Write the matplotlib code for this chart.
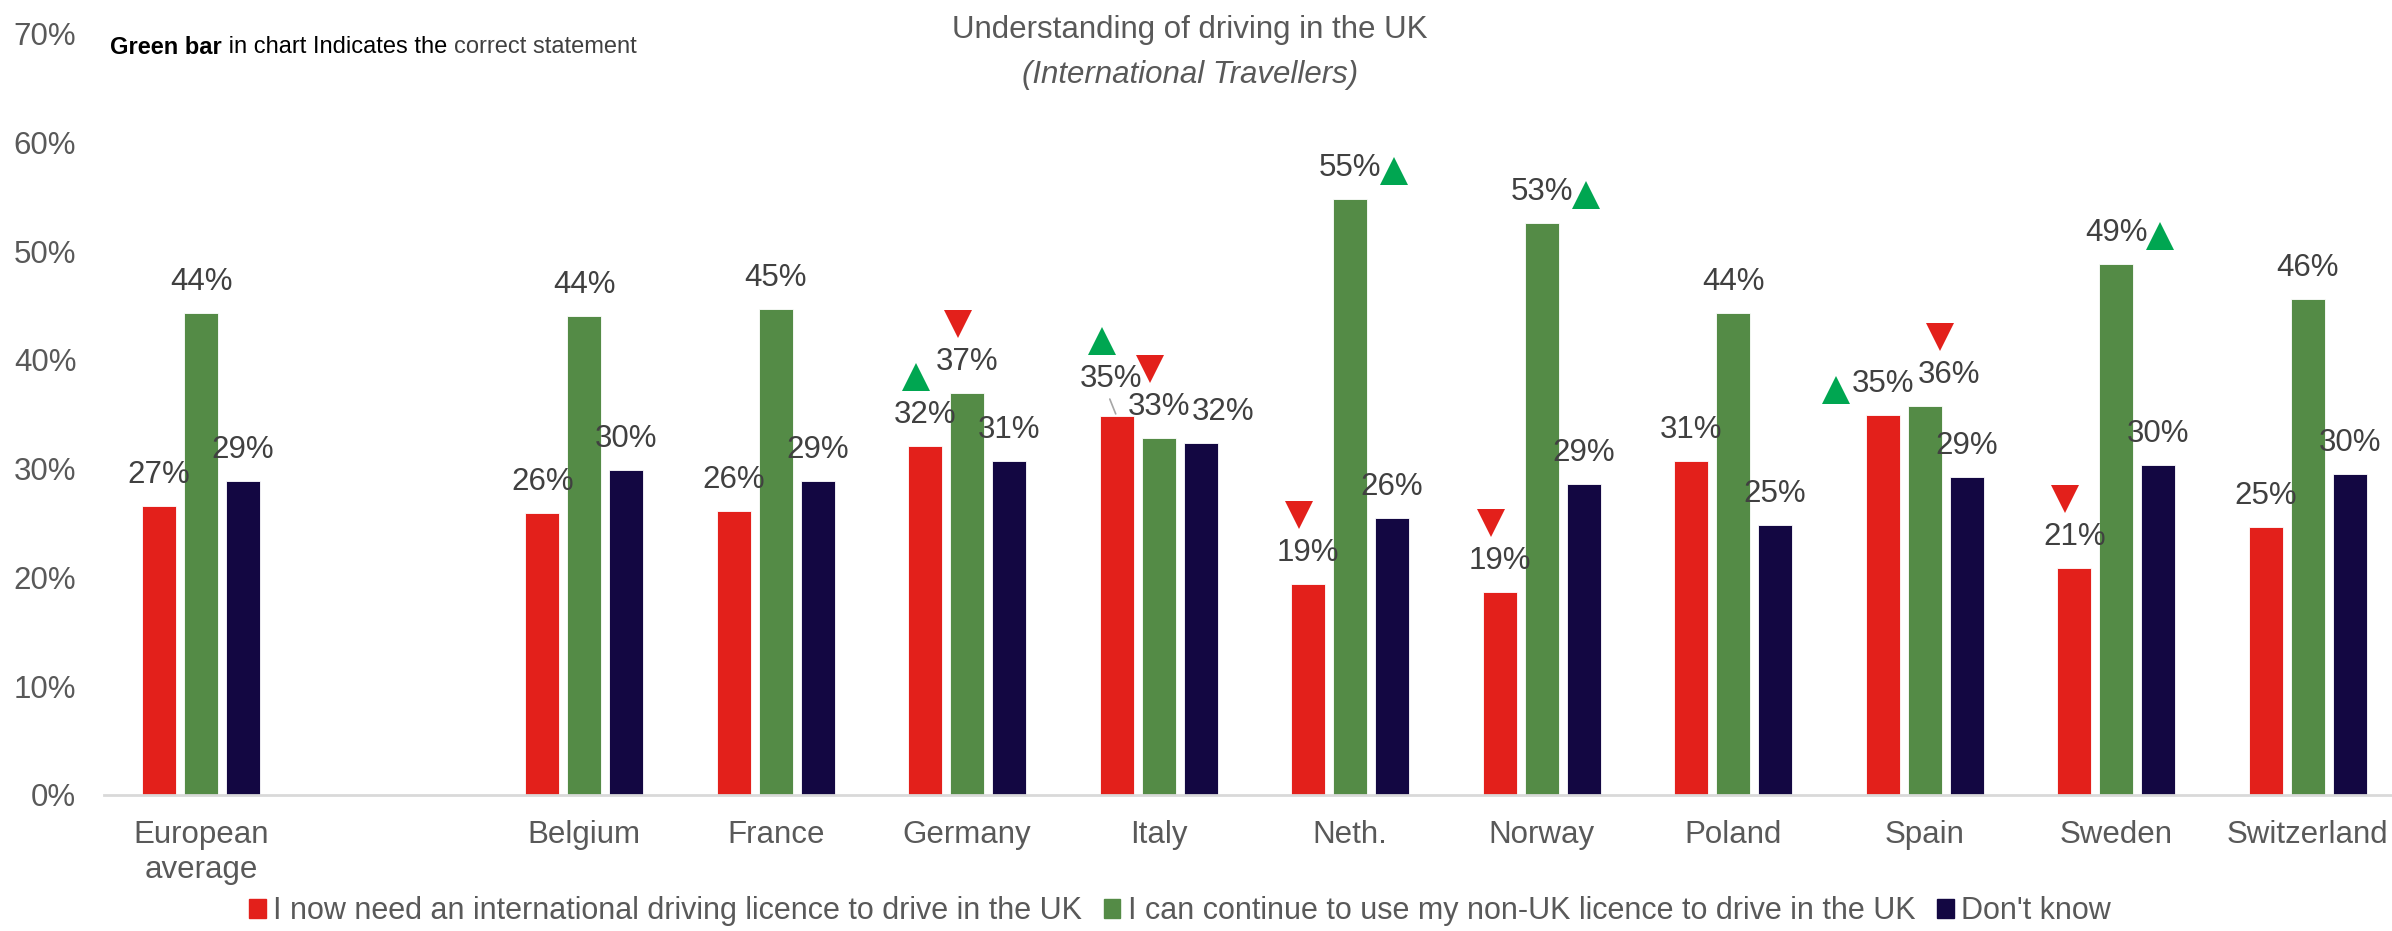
import numpy as np
import matplotlib

matplotlib.use("Agg")
import matplotlib.pyplot as plt
from matplotlib.patches import Patch
from matplotlib.transforms import offset_copy

plt.rcParams["font.family"] = ["Liberation Sans", "DejaVu Sans"]

# data (percent)
categories = ["European\naverage", "", "Belgium", "France", "Germany", "Italy",
              "Neth.", "Norway", "Poland", "Spain", "Sweden", "Switzerland"]
need_idp = [26.6, np.nan, 25.9, 26.1, 32.1, 34.8, 19.4, 18.7, 30.7, 34.9, 20.9, 24.6]
use_own = [44.3, np.nan, 44.0, 44.7, 37.0, 32.8, 54.8, 52.6, 44.3, 35.8, 48.8, 45.6]
dont_know = [28.9, np.nan, 29.9, 28.9, 30.7, 32.4, 25.5, 28.6, 24.8, 29.2, 30.3, 29.5]
series_names = ["I now need an international driving licence to drive in the UK",
                "I can continue to use my non-UK licence to drive in the UK",
                "Don't know"]

# significance arrows: (category, series index, direction, where relative to label)
arrows = [
    ("Germany", 0, "up", "above"), ("Germany", 1, "down", "above"),
    ("Italy", 0, "up", "above"), ("Italy", 1, "down", "above"),
    ("Neth.", 0, "down", "above"), ("Neth.", 1, "up", "right"),
    ("Norway", 0, "down", "above"), ("Norway", 1, "up", "right"),
    ("Spain", 0, "up", "left"), ("Spain", 1, "down", "above"),
    ("Sweden", 0, "down", "above"), ("Sweden", 1, "up", "right"),
]

colors = ["#E3201B", "#548B46", "#130742"]
txt_grey = "#595959"
lab_grey = "#404040"

fig = plt.figure(figsize=(23.92, 9.31), dpi=100)
ax = fig.add_axes([0.0435, 0.1461, 0.9565, 0.8178])

x = np.arange(len(categories))
width = 0.178
pitch = 0.219
all_series = [need_idp, use_own, dont_know]

# per-label pixel nudges (series, category) -> (dx, dy)
label_nudge = {(2, "Italy"): (22, 0), (1, "Spain"): (24, 0), (0, "Italy"): (-6, 6)}
label_pos = {}

for s, vals in enumerate(all_series):
    xs = x + (s - 1) * pitch
    ax.bar(xs, vals, width=width, color=colors[s], label=series_names[s],
           edgecolor="white", linewidth=0.6)
    for xi, v, cat in zip(xs, vals, categories):
        if np.isnan(v):
            continue
        dx, dy = label_nudge.get((s, cat), (0, 0))
        ax.annotate(f"{v:.0f}%", (xi, v), xytext=(dx, 31 + dy),
                    textcoords="offset pixels", ha="center", va="center",
                    fontsize=22.5, color=lab_grey)
        label_pos[(s, cat)] = (xi, v, dx, 31 + dy)

# leader line for Italy red label
xi, v, dx, dy = label_pos[(0, "Italy")]
ax.annotate("", (xi, v), xytext=(dx - 2, dy - 17), textcoords="offset pixels",
            arrowprops=dict(arrowstyle="-", color="#a6a6a6", lw=1.2))

place_off = {"above": (-9, 38), "right": (44, -3), "left": (-47, -6)}
for cat, s, direction, where in arrows:
    xi, v, dx, dy = label_pos[(s, cat)]
    ox, oy = place_off[where]
    tr = offset_copy(ax.transData, fig=fig, x=dx + ox, y=dy + oy, units="dots")
    ax.plot([xi], [v], transform=tr, linestyle="none",
            marker="^" if direction == "up" else "v", markersize=20,
            color="#00A651" if direction == "up" else "#E3201B",
            markeredgewidth=0, clip_on=False)

ax.set_xlim(-0.507, 11.44)
ax.set_ylim(0, 70)
ax.set_yticks(np.arange(0, 71, 10))
ax.set_yticklabels([f"{t}%" for t in range(0, 71, 10)])
ax.set_xticks(x)
ax.set_xticklabels(categories)
ax.tick_params(axis="y", length=0, pad=20, labelsize=22.5, labelcolor=txt_grey)
ax.tick_params(axis="x", length=0, pad=18, labelsize=22.5, labelcolor=txt_grey)
for sp in ["top", "right", "left"]:
    ax.spines[sp].set_visible(False)
ax.spines["bottom"].set_color("#d9d9d9")
ax.spines["bottom"].set_linewidth(2)

fig.text(0.4975, 0.968, "Understanding of driving in the UK", ha="center", va="center",
         fontsize=22.5, color=txt_grey)
fig.text(0.4975, 0.9195, "(International Travellers)", ha="center", va="center",
         fontsize=22.5, color=txt_grey, style="italic")

t1 = fig.text(0.046, 0.9495, "Green bar", ha="left", va="center", fontsize=17,
              fontweight="bold", color="black")
t2 = ax.annotate(" in chart Indicates the ", xy=(1, 0.5), xycoords=t1,
                 ha="left", va="center", fontsize=17, color="black")
ax.annotate("correct statement", xy=(1, 0.5), xycoords=t2,
            ha="left", va="center", fontsize=17, color=lab_grey)

handles = [Patch(color=c) for c in colors]
fig.legend(handles, series_names, loc="center", bbox_to_anchor=(0.4933, 0.021),
           ncol=3, frameon=False, fontsize=22, labelcolor=txt_grey,
           handlelength=0.55, handleheight=0.55, handletextpad=0.25,
           columnspacing=0.7, borderaxespad=0)

fig.savefig("out.png", dpi=100)
